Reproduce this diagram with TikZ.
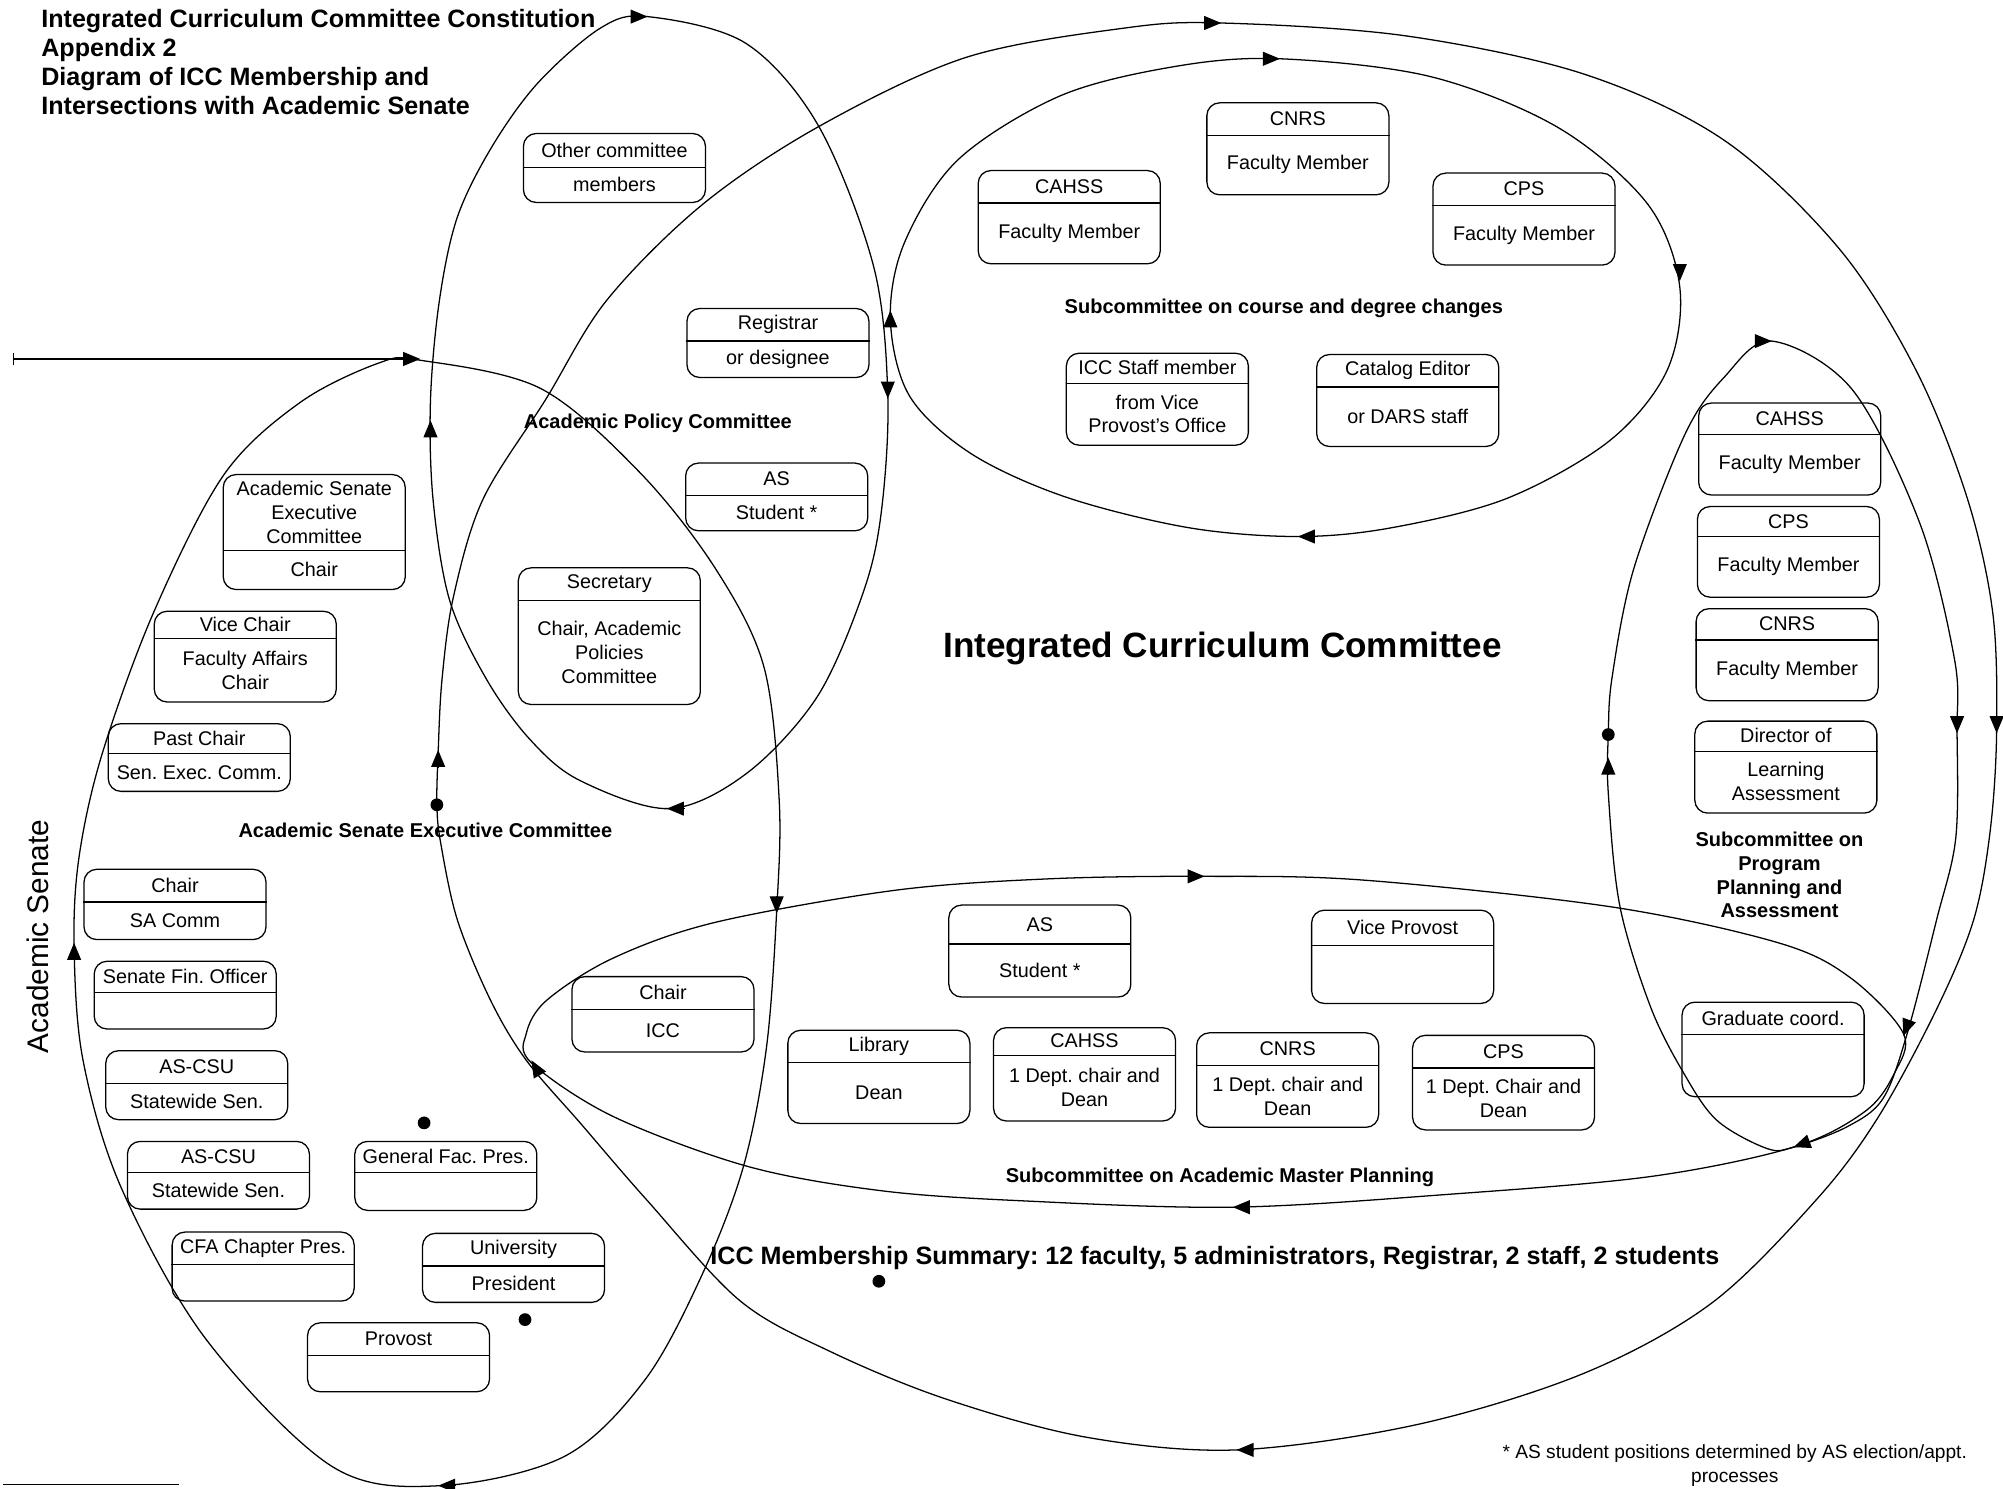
\documentclass[tikz,border=0pt]{standalone}
\usepackage{fontspec}
\setmainfont{Liberation Sans}
\frenchspacing
\usetikzlibrary{arrows.meta}
\tikzset{
	>={Triangle[length=8pt, width=6.5pt]}, % filled arrow heads on the loops
	orbit/.style={line width=0.6pt}, % the committee loops
	memberbox/.style={draw, line width=0.6pt, rounded corners=6pt, minimum width=85.5pt, inner sep=0pt}, % one seat
	membertext/.style={font=\fontsize{9.3}{11.2}\selectfont, align=center, inner sep=0pt},
	sublabel/.style={font=\bfseries\fontsize{9.4}{11.2}\selectfont, align=center, inner sep=0pt},
	blob/.style={circle, fill, inner sep=0pt, minimum size=6pt},
}
% name, x, top, divider, bottom, upper text, lower text
\newcommand{\seatbox}[7]{%
	\pgfmathsetmacro{\boxh}{0.6*(#5-#3)}%
	\node[memberbox, minimum height=\boxh pt, anchor=north] (#1) at (#2,#3) {};
	\draw[line width=0.6pt] (#1.west |- 0,#4) -- (#1.east |- 0,#4);
	\node[membertext] (#1-up) at (#2,{(#3+#4)/2}) {#6};
	\node[membertext] (#1-lo) at (#2,{(#4+#5)/2}) {#7};
}
\newcommand{\arrowmark}[2]{\draw[->, orbit] (#1) ++(#2+180:8pt) -- (#1);}

\begin{document}
\begin{tikzpicture}[x=0.6pt, y=-0.6pt]
	\useasboundingbox (0,0) rectangle (1568,1165);

	\node[anchor=north west, align=left, inner sep=0pt, font=\bfseries\fontsize{11.8}{13.6}\selectfont] (heading) at (32,7)
		{Integrated Curriculum Committee Constitution\\Appendix 2\\Diagram of ICC Membership and\\Intersections with Academic Senate};

	% loops
	\draw[orbit] plot[smooth cycle, tension=0.55] coordinates {(329,282) (423,304) (501,370) (560,445) (598,522) (610,627) (608,713) (600,820) (582,913) (550,997) (505,1080) (442,1140) (345,1163) (260,1148) (161,1048) (95,930) (65,830) (58,740) (62,670) (80,590) (120,480) (175,372) (235,315) (297,284)};
	\draw[orbit] plot[smooth cycle, tension=0.55] coordinates {(507,13) (584,34) (641,99) (684,209) (695,310) (690,400) (676,463) (640,545) (585,605) (524,633) (454,611) (415,579) (381,532) (352,470) (339,391) (337,313) (344,235) (358,170) (385,115) (421,65) (470,22)};
	\draw[orbit] plot[smooth cycle, tension=0.55] coordinates {(956,18) (1100,28) (1240,58) (1350,110) (1440,195) (1500,290) (1540,390) (1560,480) (1563,572) (1558,650) (1545,720) (1516,790) (1470,875) (1422,939) (1340,1020) (1240,1075) (1110,1115) (968,1135) (850,1125) (740,1095) (650,1058) (579,1018) (506,939) (455,880) (412,830) (384,783) (358,720) (345,660) (342,630) (343,589) (346,532) (355,467) (378,391) (427,313) (475,235) (550,160) (641,99) (756,45) (880,22)};
	\draw[orbit] plot[smooth cycle, tension=0.55] coordinates {(1002,46) (1120,60) (1220,100) (1290,160) (1315,225) (1305,290) (1260,345) (1180,390) (1090,413) (1016,420) (930,413) (834,389) (760,355) (712,310) (697,250) (708,190) (750,125) (830,75) (920,52)};
	\draw[orbit] plot[smooth cycle, tension=0.55] coordinates {(1387,267) (1450,305) (1503,410) (1530,516) (1532,572) (1531,656) (1516,720) (1493,809) (1474,860) (1446,882) (1404,898) (1383,899) (1344,877) (1318,840) (1292,788) (1268,709) (1259,621) (1259,575) (1262,530) (1279,445) (1319,340) (1350,295)};
	\draw[orbit] plot[smooth cycle, tension=0.55] coordinates {(943,686) (1068,689) (1262,710) (1392,738) (1448,765) (1490,809) (1483,840) (1460,870) (1404,898) (1292,921) (1133,935) (965,945) (800,940) (689,932) (585,913) (480,874) (416,832) (412,809) (428,783) (480,750) (560,722) (700,697) (820,688)};

	\arrowmark{507,13}{0}
	\arrowmark{956,18}{0}
	\arrowmark{1002,46}{0}
	\arrowmark{1387,267}{0}
	\arrowmark{943,686}{0}
	\arrowmark{695,312}{-90}
	\arrowmark{697,243}{90}
	\arrowmark{1315,220}{-90}
	\arrowmark{1563,574}{-90}
	\arrowmark{1532,574}{-90}
	\arrowmark{1490,811}{-110}
	\arrowmark{1404,898}{200}
	\arrowmark{965,945}{180}
	\arrowmark{968,1135}{180}
	\arrowmark{1016,420}{180}
	\arrowmark{522,633}{180}
	\arrowmark{343,1163}{180}
	\arrowmark{608,715}{-90}
	\arrowmark{58,738}{90}
	\arrowmark{337,329}{90}
	\arrowmark{343,587}{90}
	\arrowmark{416,830}{120}
	\arrowmark{1259,593}{90}

	\coordinate (feed) at (10,281);
	\coordinate (astop) at (329,281);
	\draw[orbit, {Bar[width=6pt]}->] (feed) -- (astop);
	\draw[orbit] (2,1162) -- (140,1162);

	\node[blob] (icchub) at (342,630) {};
	\node[blob] (ppahub) at (1259,575) {};
	\node[blob] (dotgf) at (332,879) {};
	\node[blob] (dotpres) at (411,1033) {};
	\node[blob] (dotsum) at (688,1003) {};

	% academic policy committee
	\seatbox{other}{481}{104}{131}{158}{Other committee}{members}
	\seatbox{registrar}{609}{241}{267}{295}{Registrar}{or designee}
	\seatbox{apcas}{608}{362}{388}{415}{AS}{Student *}
	\seatbox{secretary}{477}{444}{470}{551}{Secretary}{Chair, Academic\\Policies\\Committee}
	% academic senate
	\seatbox{asecchair}{246}{371}{431}{461}{Academic Senate\\Executive\\Committee}{Chair}
	\seatbox{vicechair}{192}{478}{500}{549}{Vice Chair}{Faculty Affairs\\Chair}
	\seatbox{pastchair}{156}{566}{590}{619}{Past Chair}{Sen. Exec. Comm.}
	\seatbox{sachair}{137}{680}{706}{735}{Chair}{SA Comm}
	\seatbox{finofficer}{145}{752}{777}{805}{Senate Fin. Officer}{}
	\seatbox{ascsua}{154}{822}{848}{876}{AS-CSU}{Statewide Sen.}
	\seatbox{ascsub}{171}{893}{918}{946}{AS-CSU}{Statewide Sen.}
	\seatbox{genfac}{349}{893}{918}{947}{General Fac. Pres.}{}
	\seatbox{cfa}{206}{964}{990}{1018}{CFA Chapter Pres.}{}
	\seatbox{president}{402}{965}{991}{1019}{University}{President}
	\seatbox{provost}{312}{1035}{1061}{1089}{Provost}{}
	\seatbox{iccchair}{519}{764}{790}{823}{Chair}{ICC}
	% course and degree changes
	\seatbox{cdccahss}{837}{133}{159}{206}{CAHSS}{Faculty Member}
	\seatbox{cdccnrs}{1016}{80}{106}{152}{CNRS}{Faculty Member}
	\seatbox{cdccps}{1193}{135}{161}{207}{CPS}{Faculty Member}
	\seatbox{staff}{906}{276}{300}{348}{ICC Staff member}{from Vice\\Provost's Office}
	\seatbox{catalog}{1102}{277}{303}{349}{Catalog Editor}{or DARS staff}
	% program planning and assessment
	\seatbox{ppacahss}{1401}{315}{340}{387}{CAHSS}{Faculty Member}
	\seatbox{ppacps}{1400}{396}{420}{467}{CPS}{Faculty Member}
	\seatbox{ppacnrs}{1399}{476}{501}{548}{CNRS}{Faculty Member}
	\seatbox{director}{1398}{564}{588}{636}{Director of}{Learning\\Assessment}
	% academic master planning
	\seatbox{ampas}{814}{708}{739}{780}{AS}{Student *}
	\seatbox{viceprovost}{1098}{712}{740}{785}{Vice Provost}{}
	\seatbox{library}{688}{806}{832}{879}{Library}{Dean}
	\seatbox{ampcahss}{849}{804}{826}{877}{CAHSS}{1 Dept. chair and\\Dean}
	\seatbox{ampcnrs}{1008}{808}{834}{882}{CNRS}{1 Dept. chair and\\Dean}
	\seatbox{ampcps}{1177}{810}{836}{884}{CPS}{1 Dept. Chair and\\Dean}
	\seatbox{gradcoord}{1388}{784}{810}{858}{Graduate coord.}{}

	\node[sublabel] (cdclabel) at (1005,241) {Subcommittee on course and degree changes};
	\node[sublabel] (apclabel) at (515,331) {Academic Policy Committee};
	\node[sublabel] (aseclabel) at (333,650) {Academic Senate Executive Committee};
	\node[sublabel] (amplabel) at (955,922) {Subcommittee on Academic Master Planning};
	\node[sublabel] (ppalabel) at (1393,685) {Subcommittee on\\Program\\Planning and\\Assessment};
	\node[font=\bfseries\fontsize{16.5}{20}\selectfont] (icctitle) at (957,508) {Integrated Curriculum Committee};
	\node[font=\bfseries\fontsize{11.8}{14}\selectfont] (summary) at (951,985) {ICC Membership Summary: 12 faculty, 5 administrators, Registrar, 2 staff, 2 students};
	\node[rotate=90, font=\fontsize{14}{16}\selectfont] (senate) at (30,733) {Academic Senate};
	\node[font=\fontsize{9}{11.4}\selectfont, align=center, inner sep=0pt] (note) at (1358,1147) {* AS student positions determined by AS election/appt.\\processes};
\end{tikzpicture}
\end{document}
